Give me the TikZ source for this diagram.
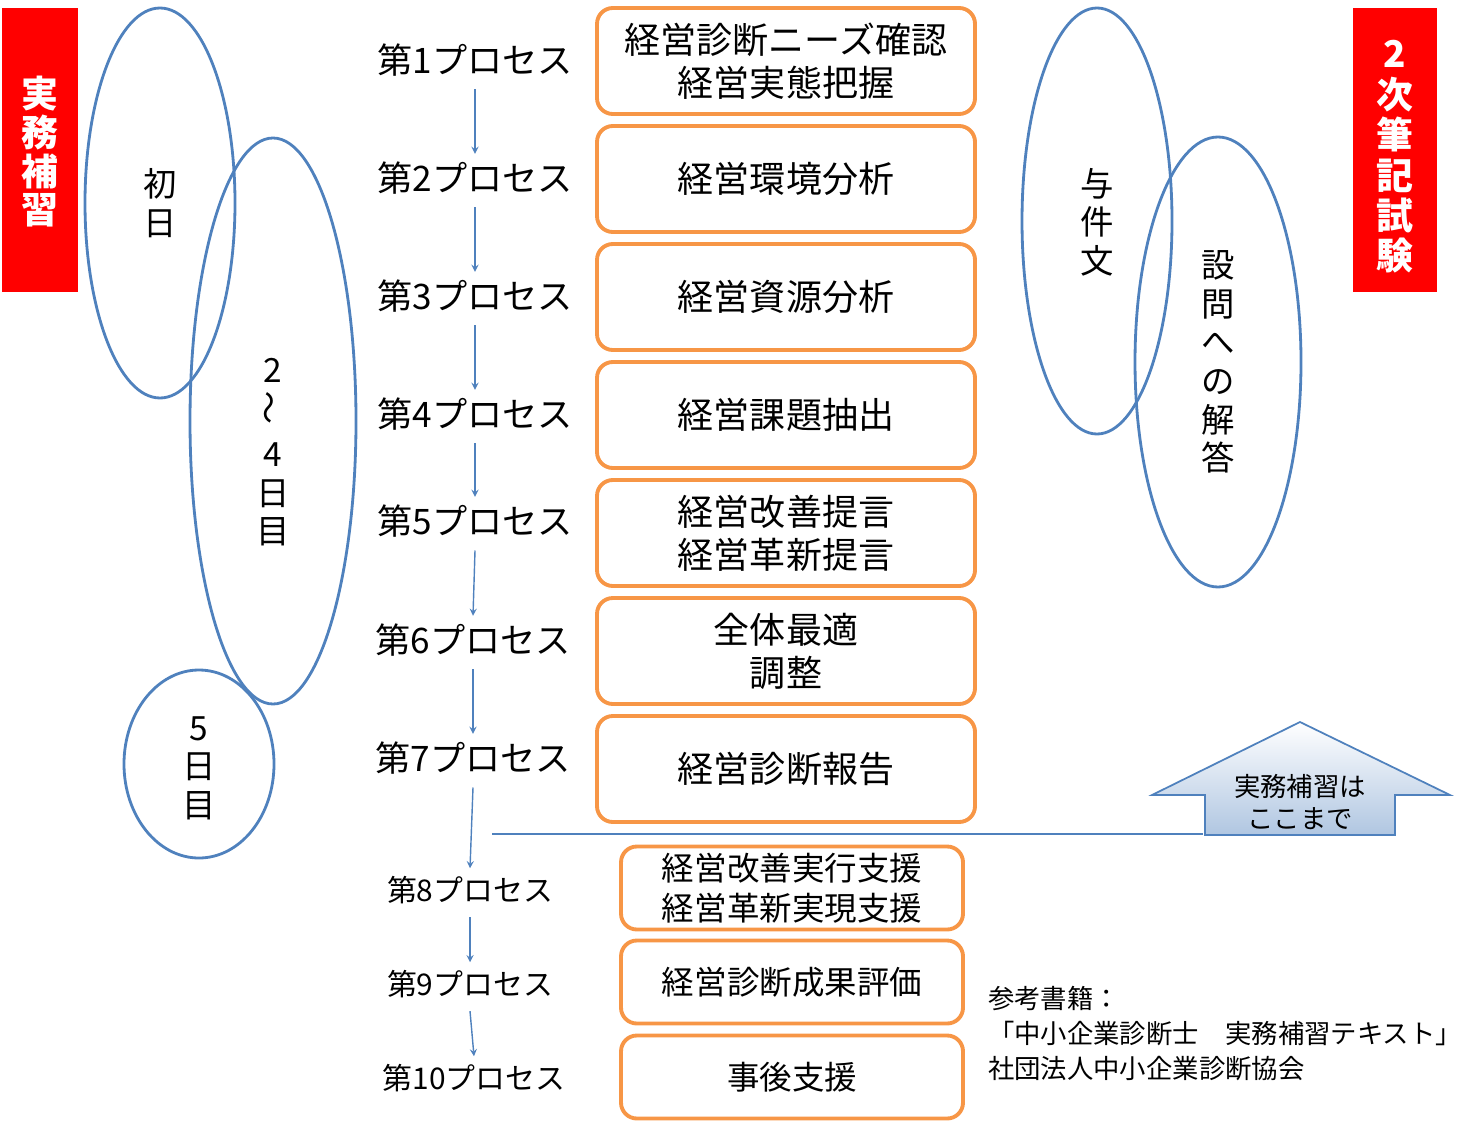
\documentclass[tikz,border=0pt]{standalone}
\usepackage{fontspec}
\setmainfont{Noto Sans CJK JP}
\usetikzlibrary{positioning}
\definecolor{boxorange}{RGB}{247,150,70}
\definecolor{ellblue}{RGB}{79,129,189}
\definecolor{hdrred}{RGB}{255,0,0}
\tikzset{
  stepbox/.style={draw=boxorange, line width=2.2pt, rounded corners=9pt, fill=white, align=center, inner sep=0pt},
  boxtext/.style={font=\fontsize{20.5}{24.5}\selectfont},
  boxtextsmall/.style={font=\fontsize{18.5}{23}\selectfont},
  proclabel/.style={font=\fontsize{20}{22}\selectfont},
  proclabelsmall/.style={font=\fontsize{17}{19}\selectfont},
  elltext/.style={font=\fontsize{19}{22}\selectfont, align=center},
  dayell/.style={draw=ellblue, line width=1.6pt},
  flow/.style={->, draw=ellblue, line width=0.8pt, >=stealth},
  redtag/.style={text=white, align=center, font=\fontsize{21}{23}\bfseries\selectfont}
}
\begin{document}
\begin{tikzpicture}[x=0.02cm, y=-0.02cm]
  \useasboundingbox (0,0) rectangle (1479,1122);
  %red tags
  \fill[hdrred] (2,8) rectangle (78,292);
  \node[redtag] (tagl) at (40,152) {実\\[-1pt]務\\[-1pt]補\\[-1pt]習};
  \fill[hdrred] (1353,8) rectangle (1437,292);
  \node[redtag] (tagr) at (1395,157) {2\\次\\筆\\記\\試\\験};
  %ellipses
  \draw[dayell] (160,203) ellipse [x radius=75, y radius=195];
  \draw[dayell] (273,421) ellipse [x radius=83, y radius=283];
  \draw[dayell] (199,764) ellipse [x radius=75, y radius=94];
  \draw[dayell] (1097,221) ellipse [x radius=75, y radius=213];
  \draw[dayell] (1218,362) ellipse [x radius=83, y radius=225];
  \node[elltext] (d1) at (160,203) {初\\日};
  \node[elltext] (d2) at (273,452) {2\\[2pt]\rotatebox{90}{～}\\[2pt]4\\日\\目};
  \node[elltext] (d5) at (199,768) {5\\日\\目};
  \node[elltext] (yoken) at (1097,222) {与\\件\\文};
  \node[elltext] (setsu) at (1218,362) {設\\問\\へ\\の\\解\\答};
  %boxes 1-7
  \node[stepbox, boxtext, minimum width=378*0.02cm, minimum height=106*0.02cm] (b1) at (786,61) {経営診断ニーズ確認\\経営実態把握};
  \node[stepbox, boxtext, minimum width=378*0.02cm, minimum height=106*0.02cm] (b2) at (786,179) {経営環境分析};
  \node[stepbox, boxtext, minimum width=378*0.02cm, minimum height=106*0.02cm] (b3) at (786,297) {経営資源分析};
  \node[stepbox, boxtext, minimum width=378*0.02cm, minimum height=106*0.02cm] (b4) at (786,415) {経営課題抽出};
  \node[stepbox, boxtext, minimum width=378*0.02cm, minimum height=106*0.02cm] (b5) at (786,533) {経営改善提言\\経営革新提言};
  \node[stepbox, boxtext, minimum width=378*0.02cm, minimum height=106*0.02cm] (b6) at (786,651) {全体最適\\調整};
  \node[stepbox, boxtext, minimum width=378*0.02cm, minimum height=106*0.02cm] (b7) at (786,769) {経営診断報告};
  %boxes 8-10
  \node[stepbox, boxtextsmall, minimum width=342*0.02cm, minimum height=83*0.02cm] (b8) at (792,888) {経営改善実行支援\\経営革新実現支援};
  \node[stepbox, boxtextsmall, minimum width=342*0.02cm, minimum height=83*0.02cm] (b9) at (792,982) {経営診断成果評価};
  \node[stepbox, boxtextsmall, minimum width=342*0.02cm, minimum height=83*0.02cm] (b10) at (792,1077) {事後支援};
  %process labels
  \node[proclabel] (p1) at (475,60) {第1プロセス};
  \node[proclabel] (p2) at (475,178) {第2プロセス};
  \node[proclabel] (p3) at (475,296) {第3プロセス};
  \node[proclabel] (p4) at (475,414) {第4プロセス};
  \node[proclabel] (p5) at (475,521) {第5プロセス};
  \node[proclabel] (p6) at (473,640) {第6プロセス};
  \node[proclabel] (p7) at (473,758) {第7プロセス};
  \node[proclabelsmall] (p8) at (470,890) {第8プロセス};
  \node[proclabelsmall] (p9) at (470,984) {第9プロセス};
  \node[proclabelsmall] (p10) at (474,1078) {第10プロセス};
  %arrows
  \foreach \a/\b in {p1/p2,p2/p3,p3/p4,p4/p5,p5/p6,p6/p7,p7/p8,p8/p9,p9/p10}
    \draw[flow] ([yshift=-4pt]\a.south) -- ([yshift=1pt]\b.north);
  %border line and up arrow
  \coordinate (lineL) at (492,834);
  \coordinate (lineR) at (1203,834);
  \draw[ellblue, line width=1pt] (lineL) -- (lineR);
  \shade[top color=white, bottom color=ellblue!45, draw=ellblue, line width=1pt]
    (1205,835) -- (1205,795) -- (1152,795) -- (1300,722) -- (1450,795) -- (1395,795) -- (1395,835) -- cycle;
  \node[font=\fontsize{15}{18}\selectfont, align=center] (upnote) at (1300,802) {実務補習は\\ここまで};
  %reference
  \node[font=\fontsize{15}{20}\selectfont, align=left, anchor=north west] (ref) at (982,980)
    {参考書籍：\\「中小企業診断士　実務補習テキスト」\\社団法人中小企業診断協会};
\end{tikzpicture}
\end{document}
